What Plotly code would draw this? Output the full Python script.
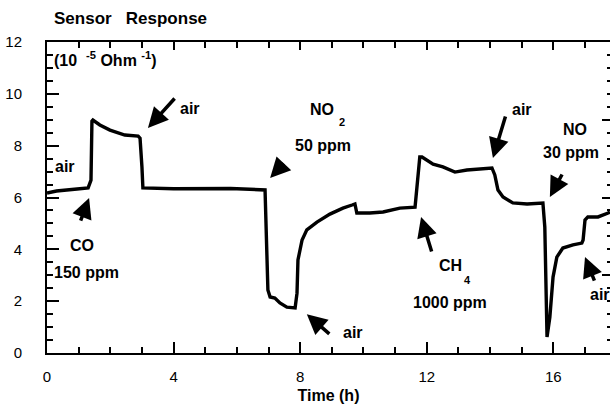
import plotly.graph_objects as go

# Sensor conductance recorded over time while the test gas is switched
time_h = [0.0, 0.3, 0.95, 1.30, 1.39, 1.42, 1.45, 1.67, 1.99, 2.31, 2.46, 2.88, 2.94, 3.0, 3.03,
          4.0, 4.83, 5.8, 6.89, 6.92, 6.94, 6.98, 7.05, 7.2, 7.36, 7.58, 7.84, 7.9, 7.93, 8.06,
          8.21, 8.53, 8.94, 9.35, 9.64, 9.73, 9.79, 10.2, 10.62, 11.15, 11.63, 11.69, 11.78, 11.85,
          12.0, 12.2, 12.51, 12.89, 13.27, 14.06, 14.15, 14.25, 14.41, 14.72, 15.17, 15.67, 15.73,
          15.8, 15.89, 15.99, 16.11, 16.3, 16.62, 16.9, 16.94, 17.0, 17.09, 17.41, 17.73, 17.79]
response = [6.17, 6.25, 6.33, 6.37, 6.67, 8.95, 8.99, 8.8, 8.6, 8.49, 8.41, 8.37, 8.29, 7.18, 6.37,
            6.34, 6.33, 6.35, 6.29, 4.86, 3.08, 2.43, 2.16, 2.12, 1.93, 1.77, 1.74, 2.31, 3.59, 4.36,
            4.75, 5.05, 5.36, 5.59, 5.71, 5.75, 5.4, 5.4, 5.44, 5.59, 5.63, 6.29, 7.56, 7.56,
            7.45, 7.29, 7.18, 6.98, 7.06, 7.14, 6.87, 6.29, 6.02, 5.79, 5.75, 5.79, 4.86,
            0.62, 1.39, 2.93, 3.7, 4.05, 4.17, 4.24, 4.36, 5.13, 5.25, 5.25, 5.4, 5.44]

x_ticks = [0, 4, 8, 12, 16]
y_ticks = [0, 2, 4, 6, 8, 10, 12]

# Gas labels: (text, time, value, font size)
labels = [
    ("air", 0.57, 7.21, 16),
    ("CO", 1.1, 4.13, 16),
    ("150 ppm", 1.26, 3.12, 16),
    ("air", 4.52, 9.45, 16),
    ("NO", 8.69, 9.41, 16),
    ("2", 9.32, 8.91, 11),
    ("50 ppm", 8.72, 8.02, 16),
    ("air", 9.67, 0.81, 16),
    ("CH", 12.76, 3.36, 16),
    ("4", 13.3, 2.82, 11),
    ("1000 ppm", 12.73, 1.93, 16),
    ("air", 15.0, 9.41, 16),
    ("NO", 16.68, 8.64, 16),
    ("30 ppm", 16.56, 7.72, 16),
    ("air", 17.47, 2.24, 16),
]

# Switching arrows: (tip time, tip value, tail dx px, tail dy px)
arrows = [
    (1.33, 5.98, -9, 24),
    (3.19, 8.68, 28, -31),
    (7.05, 6.75, 15, -16),
    (8.21, 1.50, 24, 21),
    (11.82, 5.25, 11, 36),
    (14.09, 7.52, 13, -43),
    (15.89, 6.02, 13, -24),
    (17.0, 3.70, 10, 25),
]

FONT = "Liberation Sans, Arial, Helvetica, sans-serif"
X_RANGE = [0, 17.79]
Y_RANGE = [0, 12]

fig = go.Figure()
fig.add_trace(go.Scatter(x=time_h, y=response, mode="lines",
                         line=dict(color="black", width=3.4),
                         hoverinfo="skip", showlegend=False))
# invisible trace carrying the top and right frame axes
fig.add_trace(go.Scatter(x=[0], y=[0], xaxis="x2", yaxis="y2", mode="markers",
                         marker=dict(opacity=0), showlegend=False, hoverinfo="skip"))

annotations = []
for text, x, y, size in labels:
    annotations.append(dict(x=x, y=y, xref="x", yref="y", text=text, showarrow=False,
                            font=dict(family=FONT, size=size, color="black", weight="bold")))
for x, y, ax, ay in arrows:
    annotations.append(dict(x=x, y=y, xref="x", yref="y", text="", showarrow=True,
                            ax=ax, ay=ay, arrowhead=2, arrowsize=1.15, arrowwidth=3.5,
                            arrowcolor="black"))

annotations.append(dict(x=0.16, y=11.34, xref="x", yref="y", xanchor="left",
                        text="(10\u00a0\u00a0<sup>-5</sup> Ohm <sup>-1</sup>)", showarrow=False,
                        font=dict(family=FONT, size=16, color="black", weight="bold")))
annotations.append(dict(x=0.009, y=1.077, xref="paper", yref="paper", xanchor="left",
                        yanchor="middle", text="Sensor\u00a0\u00a0\u00a0Response", showarrow=False,
                        font=dict(family=FONT, size=17, color="black", weight="bold")))

minor_x = dict(dtick=1, ticks="inside", ticklen=6, tickwidth=1.5, tickcolor="black", showgrid=False)

fig.update_layout(
    width=610, height=406,
    margin=dict(l=47, r=0, t=42, b=53),
    paper_bgcolor="white", plot_bgcolor="white",
    font=dict(family=FONT, color="black"),
    annotations=annotations,
    xaxis=dict(range=X_RANGE, tickvals=x_ticks, ticks="inside", ticklen=11, tickwidth=1.5,
               tickcolor="black", showline=True, linecolor="black", linewidth=2,
               showgrid=False, zeroline=False,
               tickfont=dict(size=15), ticklabelstandoff=9,
               minor=minor_x,
               title=dict(text="Time (h)", standoff=6,
                          font=dict(size=16, weight="bold"))),
    xaxis2=dict(range=X_RANGE, overlaying="x", side="top", tickvals=x_ticks, ticks="inside",
                ticklen=8, tickwidth=1.5, tickcolor="black", showticklabels=False,
                showline=True, linecolor="black", linewidth=2, showgrid=False, zeroline=False,
                minor=minor_x),
    yaxis=dict(range=Y_RANGE, tickvals=y_ticks, ticks="inside", ticklen=12, tickwidth=1.5,
               tickcolor="black", showline=True, linecolor="black", linewidth=2,
               showgrid=False, zeroline=False, tickfont=dict(size=15),
               ticklabelstandoff=20,
               minor=dict(dtick=0.5, ticks="inside", ticklen=6, tickwidth=1.5,
                          tickcolor="black", showgrid=False)),
    yaxis2=dict(range=Y_RANGE, overlaying="y", side="right", dtick=3, ticks="inside",
                ticklen=8, tickwidth=1.5, tickcolor="black", showticklabels=False,
                showline=False, showgrid=False, zeroline=False,
                minor=dict(dtick=0.5, ticks="inside", ticklen=3, tickwidth=1.5,
                           tickcolor="black", showgrid=False)),
)

fig.write_html("out.html")
